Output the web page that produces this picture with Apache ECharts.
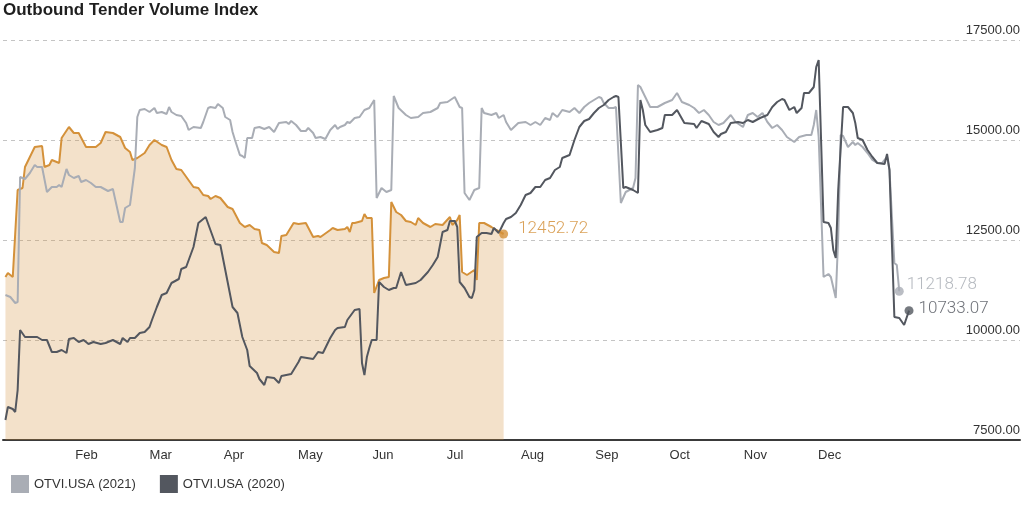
<!DOCTYPE html>
<html>
<head>
<meta charset="utf-8">
<script src="https://cdn.jsdelivr.net/npm/echarts@6/dist/echarts.min.js"></script>
<style>
  html, body { margin: 0; padding: 0; background: #fff; }
  #chart { width: 1024px; height: 531px; }
</style>
</head>
<body>
<div id="chart"></div>
<script>
// month labels (axis runs in days, one label per month start)
const monthNames = ['Jan','Feb','Mar','Apr','May','Jun','Jul','Aug','Sep','Oct','Nov','Dec'];
const yTicks = [7500, 10000, 12500, 15000, 17500];

// 2022 (orange, filled) - day of year / index value
const days2022 = [1,2,4,6,8,9,11,13,16,17,19,20,22,23,24,27,29,31,34,38,40,42,45,48,50,52,53,55,58,60,62,65,67,69,71,73,78,80,82,84,85,87,89,92,94,97,99,101,103,105,106,108,111,113,114,116,119,121,124,127,129,130,134,135,137,140,141,142,143,144,147,148,149,151,152,154,156,158,159,161,163,165,167,169,170,172,175,177,180,183,184,186,187,188,190,193,194,195,197,200,202,205];
const vals2022 = [11575,11675,11575,13750,13800,14325,14575,14825,14850,14325,14375,14500,14450,14425,15050,15325,15175,15175,14825,14825,14925,15200,15175,15075,14800,14700,14500,14550,14675,14875,15000,14875,14825,14500,14275,14250,13825,13800,13625,13600,13525,13600,13550,13325,13275,12925,12825,12875,12775,12750,12425,12375,12200,12175,12600,12625,12925,12900,12925,12575,12600,12575,12750,12800,12750,12775,12825,12700,12925,12925,12975,13150,13050,13050,11175,11500,11550,11575,13450,13200,13125,12975,12950,12875,13050,12925,12825,12900,12875,13075,12875,13000,13125,11700,11625,11750,11500,12925,12925,12825,12750,12650];

// 2021 (light grey)
const days2021 = [1,3,5,6,7,9,11,13,14,16,18,20,22,23,24,26,27,29,31,32,34,36,38,40,43,45,46,48,49,50,52,54,55,56,58,60,62,63,65,67,68,69,71,73,75,76,78,81,82,84,85,87,88,90,91,93,94,95,97,98,99,100,102,103,105,107,109,111,113,116,117,118,120,122,124,125,127,128,130,132,134,136,137,138,140,141,142,144,146,148,150,152,153,155,157,159,160,162,165,167,170,172,175,178,179,182,185,187,188,189,191,193,195,196,197,200,202,203,205,206,208,211,214,216,218,220,222,224,225,227,229,232,234,236,238,240,242,244,245,246,248,250,251,253,255,258,259,260,261,263,265,268,271,272,274,276,278,281,283,285,287,289,291,293,295,298,300,303,305,307,309,311,313,315,317,319,321,324,326,329,331,332,333,334,336,338,339,341,342,343,344,346,348,349,350,352,354,356,358,360,362,363,365,366,367];
const vals2021 = [11125,11075,10925,10950,14075,14025,14175,14375,14325,14325,13700,13825,13825,13875,13825,14275,14125,14050,14100,13950,14000,13925,13825,13825,13725,13775,13500,12950,12950,13300,13375,14300,15575,15750,15775,15700,15800,15675,15700,15650,15825,15700,15625,15600,15425,15250,15325,15300,15450,15800,15825,15800,15900,15800,15575,15500,15200,15000,14625,14600,14550,15050,15050,15300,15325,15275,15325,15200,15425,15450,15400,15475,15375,15225,15225,15300,15175,15050,15075,15025,15250,15375,15275,15325,15375,15450,15425,15550,15575,15750,15800,16000,13550,13800,13700,13750,16100,15800,15625,15550,15575,15675,15700,15800,15925,15950,16075,15825,15800,13675,13500,13750,13800,15800,15675,15625,15675,15550,15625,15450,15250,15425,15450,15375,15450,15375,15550,15500,15675,15575,15750,15700,15800,15675,15825,15925,16000,16075,16050,15925,15800,15800,15825,13425,13700,13800,14050,16375,16325,16075,15825,15825,15925,15950,16000,16175,15950,15875,15800,15675,15750,15625,15450,15375,15425,15625,15450,15325,15625,15675,15575,15675,15450,15300,15375,15250,15075,14950,15075,15125,15125,15375,15750,15075,11575,11650,11575,11050,12575,15125,15100,14825,14950,14875,14925,14825,14675,14500,14425,14425,14575,14250,11925,11875,11218.78];

// 2020 (dark grey)
const days2020 = [1,2,4,5,6,7,9,11,13,14,16,18,20,22,24,26,27,29,31,33,35,37,40,42,45,48,49,51,52,54,56,58,60,61,63,65,67,69,72,73,75,78,80,83,87,89,94,96,98,100,101,104,105,107,108,111,113,114,116,118,121,122,127,129,131,134,136,137,140,141,144,146,147,148,149,150,151,153,154,156,158,160,161,163,165,169,171,174,176,178,180,182,183,185,186,187,189,191,192,193,194,196,198,200,201,203,205,206,208,210,212,214,216,218,220,222,224,226,228,229,232,234,236,238,240,242,244,246,248,250,251,252,254,255,258,260,261,262,263,265,268,270,271,274,276,279,283,284,286,289,291,293,294,296,298,301,303,305,307,310,313,315,317,319,320,322,324,325,327,328,330,332,333,334,336,338,339,340,341,342,344,346,348,349,350,352,354,356,358,361,362,363,365,367,369,371];
const vals2020 = [8000,8325,8275,8200,8750,10250,10075,10075,10075,10075,10000,10000,9700,9700,9750,9675,10025,10050,9950,10000,9900,9950,9900,9925,10000,9900,10050,9950,10050,10050,10175,10200,10325,10500,10825,11125,11175,11425,11525,11775,11825,12325,12925,13075,12400,12375,10825,10675,10075,9750,9350,9175,9025,8875,9075,9050,8925,9100,9125,9150,9450,9575,9525,9700,9675,10050,10250,10300,10325,10500,10750,10775,9425,9125,9575,9800,10000,10000,11450,11325,11250,11300,11300,11700,11375,11425,11500,11700,11875,12075,12700,12750,12975,12975,12825,11450,11300,11075,11050,11250,12575,12675,12675,12650,12800,12675,12925,13025,13075,13175,13375,13625,13675,13825,13825,14000,14050,14250,14325,14550,14625,15000,15325,15475,15525,15675,15800,15875,16000,16075,16100,16075,13800,13825,13750,13675,16000,15750,15375,15200,15250,15300,15625,15625,15750,15425,15400,15300,15475,15400,15200,15075,15150,15200,15425,15450,15425,15500,15450,15550,15625,15825,15950,16025,16000,15750,15825,15675,15800,16175,16175,16325,16825,17000,12950,12925,12800,12250,12050,13750,15825,15825,15675,15425,15050,15000,14750,14575,14425,14400,14650,14250,10575,10550,10375,10733.07];

// last-point labels as printed on the chart
const endLabels = ['12452.72', '11218.78', '10733.07'];

const pairs = (d, v) => d.map((x, i) => [x, v[i]]);
const monthLen = 365 / 12;

let myChart = echarts.init(document.getElementById('chart'));

const cOrange = '#d4913a';
const cLight = '#a9adb5';
const cDark = '#53575f';
const font = '"Liberation Sans", Arial, sans-serif';

const last = (d, v) => [d[d.length - 1], v[v.length - 1]];

myChart.setOption({
    animation: false,
    title: {
        text: 'Outbound Tender Volume Index',
        left: 3,
        top: 2,
        padding: 0,
        textStyle: { fontSize: 17, fontWeight: 'bold', color: '#1f1f1f', fontFamily: font }
    },
    legend: {
        left: 11,
        top: 475,
        padding: 0,
        icon: 'rect',
        itemWidth: 18,
        itemHeight: 18,
        itemGap: 24,
        textStyle: { fontSize: 13, color: '#333', fontFamily: font },
        data: ['OTVI.USA (2021)', 'OTVI.USA (2020)']
    },
    grid: { left: 0, right: 4, top: 40, bottom: 91 },
    xAxis: {
        type: 'value',
        min: 0,
        max: 1020 / 74.5 * monthLen,
        interval: monthLen,
        axisLine: { show: true, lineStyle: { color: '#3a3a3a', width: 2 } },
        axisTick: { show: false },
        splitLine: { show: false },
        axisLabel: {
            color: '#333',
            fontSize: 13,
            fontFamily: font,
            align: 'left',
            margin: 9,
            padding: [0, 0, 0, -2],
            formatter: function (v) {
                const m = Math.round(v / monthLen);
                if (Math.abs(v - m * monthLen) > 0.01) return '';
                return (m >= 1 && m <= 11) ? monthNames[m] : '';
            }
        }
    },
    yAxis: {
        type: 'value',
        position: 'right',
        min: yTicks[0],
        max: yTicks[yTicks.length - 1],
        interval: 2500,
        axisLine: { show: false },
        axisTick: { show: false },
        splitLine: { show: true, lineStyle: { color: '#c4c4c4', type: [4, 4], width: 1 } },
        axisLabel: {
            inside: true,
            margin: 0,
            color: '#333',
            fontSize: 13,
            fontFamily: font,
            verticalAlign: 'bottom',
            padding: [0, 0, 3, 0],
            formatter: v => v.toFixed(2)
        }
    },
    series: [
        {
            name: 'OTVI.USA (2022)',
            type: 'line',
            data: pairs(days2022, vals2022),
            showSymbol: false,
            lineStyle: { color: cOrange, width: 2 },
            itemStyle: { color: cOrange },
            areaStyle: { color: cOrange, opacity: 0.27, origin: 'start' },
            z: 2
        },
        {
            name: 'OTVI.USA (2021)',
            type: 'line',
            data: pairs(days2021, vals2021),
            showSymbol: false,
            lineStyle: { color: cLight, width: 2 },
            itemStyle: { color: cLight },
            z: 3
        },
        {
            name: 'OTVI.USA (2020)',
            type: 'line',
            data: pairs(days2020, vals2020),
            showSymbol: false,
            lineStyle: { color: cDark, width: 2 },
            itemStyle: { color: cDark },
            z: 4
        },
        {
            // dots + value labels at the end of each line
            name: 'ends',
            type: 'scatter',
            symbolSize: 9,
            z: 5,
            label: {
                show: true,
                position: 'right',
                fontSize: 17,
                fontFamily: 'Roboto, "Liberation Sans", sans-serif',
                fontWeight: 300
            },
            data: [
                { value: last(days2022, vals2022), itemStyle: { color: cOrange },
                  label: { color: '#d18a2e', distance: 10, offset: [0, -5], formatter: endLabels[0] } },
                { value: last(days2021, vals2021), itemStyle: { color: cLight },
                  label: { color: '#a3a7af', distance: 3, offset: [0, -6], formatter: endLabels[1] } },
                { value: last(days2020, vals2020), itemStyle: { color: cDark },
                  label: { color: '#4a4e56', distance: 5, offset: [0, -2], formatter: endLabels[2] } }
            ]
        }
    ]
});
</script>
</body>
</html>
